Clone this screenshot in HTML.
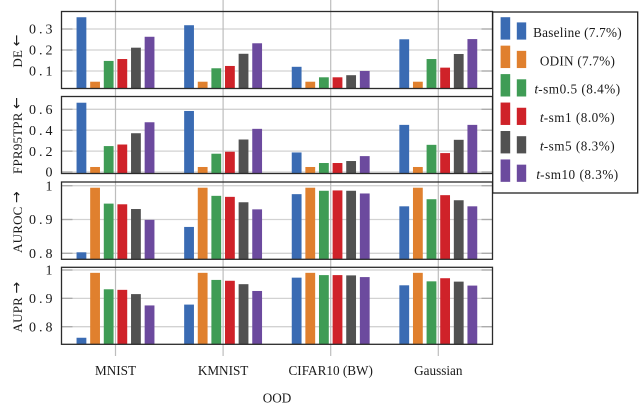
<!DOCTYPE html>
<html>
<head>
<meta charset="utf-8">
<style>
html,body{margin:0;padding:0;background:#fff;}
svg{display:block;filter:blur(0.35px);}
text{font-family:"Liberation Serif",serif;fill:#1a1a1a;}
</style>
</head>
<body>
<svg id="chart" xmlns="http://www.w3.org/2000/svg" width="640" height="403" viewBox="0 0 640 403"></svg>
<script>
const categories = ["MNIST", "KMNIST", "CIFAR10 (BW)", "Gaussian"];
const seriesNames = ["baseline", "odin", "t-sm0.5", "t-sm1", "t-sm5", "t-sm10"];
const legendPercents = ["7.7", "7.7", "8.4", "8.0", "8.3", "8.3"];
const seriesColors = ["#3a6bb3", "#e0802e", "#3f9c55", "#cf2229", "#515151", "#6c4a9e"];

const deTicks = [0.1, 0.2, 0.3];
const deBaseline = [0.356, 0.318, 0.120, 0.251];
const deOdin = [0.049, 0.049, 0.049, 0.049];
const deSm05 = [0.148, 0.113, 0.070, 0.157];
const deSm1 = [0.157, 0.124, 0.070, 0.116];
const deSm5 = [0.211, 0.182, 0.080, 0.181];
const deSm10 = [0.263, 0.232, 0.100, 0.252];

const fprTicks = [0, 0.2, 0.4, 0.6];
const fprBaseline = [0.663, 0.584, 0.187, 0.451];
const fprOdin = [0.048, 0.048, 0.048, 0.048];
const fprSm05 = [0.248, 0.175, 0.086, 0.260];
const fprSm1 = [0.263, 0.194, 0.086, 0.181];
const fprSm5 = [0.371, 0.311, 0.105, 0.308];
const fprSm10 = [0.476, 0.413, 0.152, 0.451];

const aurocTicks = [0.8, 0.9, 1];
const aurocBaseline = [0.803, 0.878, 0.975, 0.939];
const aurocOdin = [0.994, 0.994, 0.994, 0.994];
const aurocSm05 = [0.947, 0.970, 0.985, 0.960];
const aurocSm1 = [0.945, 0.967, 0.986, 0.972];
const aurocSm5 = [0.931, 0.951, 0.985, 0.957];
const aurocSm10 = [0.899, 0.930, 0.977, 0.939];

const auprTicks = [0.8, 0.9, 1];
const auprBaseline = [0.761, 0.878, 0.973, 0.946];
const auprOdin = [0.990, 0.990, 0.990, 0.990];
const auprSm05 = [0.932, 0.965, 0.982, 0.960];
const auprSm1 = [0.930, 0.962, 0.982, 0.971];
const auprSm5 = [0.915, 0.950, 0.981, 0.959];
const auprSm10 = [0.875, 0.926, 0.975, 0.945];

const svg = document.getElementById('chart');
const NS = 'http://www.w3.org/2000/svg';

function mk(tag, attrs, parent) {
  const el = document.createElementNS(NS, tag);
  for (const k in attrs) el.setAttribute(k, attrs[k]);
  (parent || svg).appendChild(el);
  return el;
}

const X_LEFT = 61.5, X_RIGHT = 492.5;
const GROUP_FIRST = 115.5, GROUP_STEP = 107.6, BAR_STEP = 13.62, BAR_WIDTH = 9.8;

function groupX(i) { return GROUP_FIRST + i * GROUP_STEP; }
function barX(g, s) { return groupX(g) + (s - 2.5) * BAR_STEP; }
function linearY(v0, y0, v1, y1) {
  return function (v) { return y0 + (v - v0) * (y1 - y0) / (v1 - v0); };
}

const panels = [
  { key: 'de', title: 'DE', arrow: '\u2190', titleY: 51, top: 11.5, bottom: 88.5, ticks: deTicks,
    y: linearY(0.1, 71, 0.3, 29),
    series: [deBaseline, deOdin, deSm05, deSm1, deSm5, deSm10] },
  { key: 'fpr95tpr', title: 'FPR95TPR', arrow: '\u2190', titleY: 135.5, top: 96.5, bottom: 173.5, ticks: fprTicks,
    y: linearY(0, 172, 0.6, 109.3),
    series: [fprBaseline, fprOdin, fprSm05, fprSm1, fprSm5, fprSm10] },
  { key: 'auroc', title: 'AUROC', arrow: '\u2192', titleY: 222, top: 182, bottom: 259.3, ticks: aurocTicks,
    y: linearY(0.8, 253.3, 1, 185.7),
    series: [aurocBaseline, aurocOdin, aurocSm05, aurocSm1, aurocSm5, aurocSm10] },
  { key: 'aupr', title: 'AUPR', arrow: '\u2192', titleY: 307, top: 267.3, bottom: 344.3, ticks: auprTicks,
    y: linearY(0.8, 326.7, 1, 270),
    series: [auprBaseline, auprOdin, auprSm05, auprSm1, auprSm5, auprSm10] }
];

/* horizontal grid + ticks + labels in each panel */
panels.forEach(function (p) {
  const g = mk('g', {});
  
  

  p.ticks.forEach(function (t) {
    const y = p.y(t);
    const grid = mk('line', { x1: X_LEFT, x2: X_RIGHT, y1: y, y2: y, stroke: '#d2d2d2', 'stroke-width': 1.3 }, g);
    
    
    const tl = mk('line', { x1: X_LEFT, x2: X_LEFT + 11, y1: y, y2: y, stroke: '#aaa', 'stroke-width': 1.3 }, g);
    
    
    const tr = mk('line', { x1: X_RIGHT - 11, x2: X_RIGHT, y1: y, y2: y, stroke: '#aaa', 'stroke-width': 1.3 }, g);
    
    
    const lab = mk('text', { x: 55.5, y: y + 4.7, 'text-anchor': 'end', 'font-size': 14, 'letter-spacing': 3 }, g);
    
    
    lab.textContent = String(t);
  });

  const title = mk('text', { transform: 'translate(17,' + p.titleY + ') rotate(-90)', 'text-anchor': 'middle', 'font-size': 13, 'letter-spacing': 0.2, 'dominant-baseline': 'central' }, g);
  
  
  const titleWord = mk('tspan', {}, title);
  titleWord.textContent = p.title + ' ';
  const titleArrow = mk('tspan', { 'font-family': '"DejaVu Sans",sans-serif', 'font-size': 14 }, title);
  titleArrow.textContent = p.arrow;
});

/* vertical group gridlines run the whole height */
categories.forEach(function (c, i) {
  const v = mk('line', { x1: groupX(i), x2: groupX(i), y1: 0, y2: 356, stroke: '#bdbdbd', 'stroke-width': 1.2 });
  
  
  const t = mk('text', { x: groupX(i), y: 375, 'text-anchor': 'middle', 'font-size': 13.2 });
  
  
  t.textContent = c;
});

panels.forEach(function (p) {
  const g = mk('g', {});
  
  
  p.series.forEach(function (vals, s) {
    vals.forEach(function (v, c) {
      const y = p.y(v);
      const r = mk('rect', {
        x: barX(c, s) - BAR_WIDTH / 2, y: y, width: BAR_WIDTH, height: p.bottom - y,
        fill: seriesColors[s]
      }, g);
      
      
    });
  });
  const frame = mk('rect', {
    x: X_LEFT, y: p.top, width: X_RIGHT - X_LEFT, height: p.bottom - p.top,
    fill: 'none', stroke: '#2b2b2b', 'stroke-width': 1.3
  }, g);
  
  
});

const xTitle = mk('text', { x: 277, y: 402.5, 'text-anchor': 'middle', 'font-size': 13.2 });


xTitle.textContent = 'OOD';

/* legend */
const legend = mk('g', {});


const legendBox = mk('rect', { x: 492.7, y: 12, width: 145, height: 181, fill: '#fff', stroke: '#222', 'stroke-width': 1.3 }, legend);



const legendStep = 28.45;
seriesNames.forEach(function (name, i) {
  const base = 39.6 + i * legendStep;
  const entry = mk('g', {}, legend);
  
  
  const b1 = mk('rect', { x: 500.6, y: base - 22.4, width: 9.6, height: 22.4, fill: seriesColors[i] }, entry);
  
  
  const b2 = mk('rect', { x: 516.8, y: base - 17.2, width: 9.4, height: 17.2, fill: seriesColors[i] }, entry);
  
  
  const t = mk('text', { x: 577.5, y: base - 2.8, 'text-anchor': 'middle', 'font-size': 13.2 }, entry);
  
  
  if (i < 2) {
    t.setAttribute('letter-spacing', '0.25');
    t.textContent = (i === 0 ? 'Baseline' : 'ODIN') + ' (' + legendPercents[i] + '%)';
  } else {
    const it = mk('tspan', { 'font-style': 'italic', 'font-size': 14 }, t);
    it.textContent = 't';
    const rest = mk('tspan', { 'letter-spacing': 0.5 }, t);
    rest.textContent = name.slice(1) + ' (' + legendPercents[i] + '%)';
  }
});
</script>
</body>
</html>
